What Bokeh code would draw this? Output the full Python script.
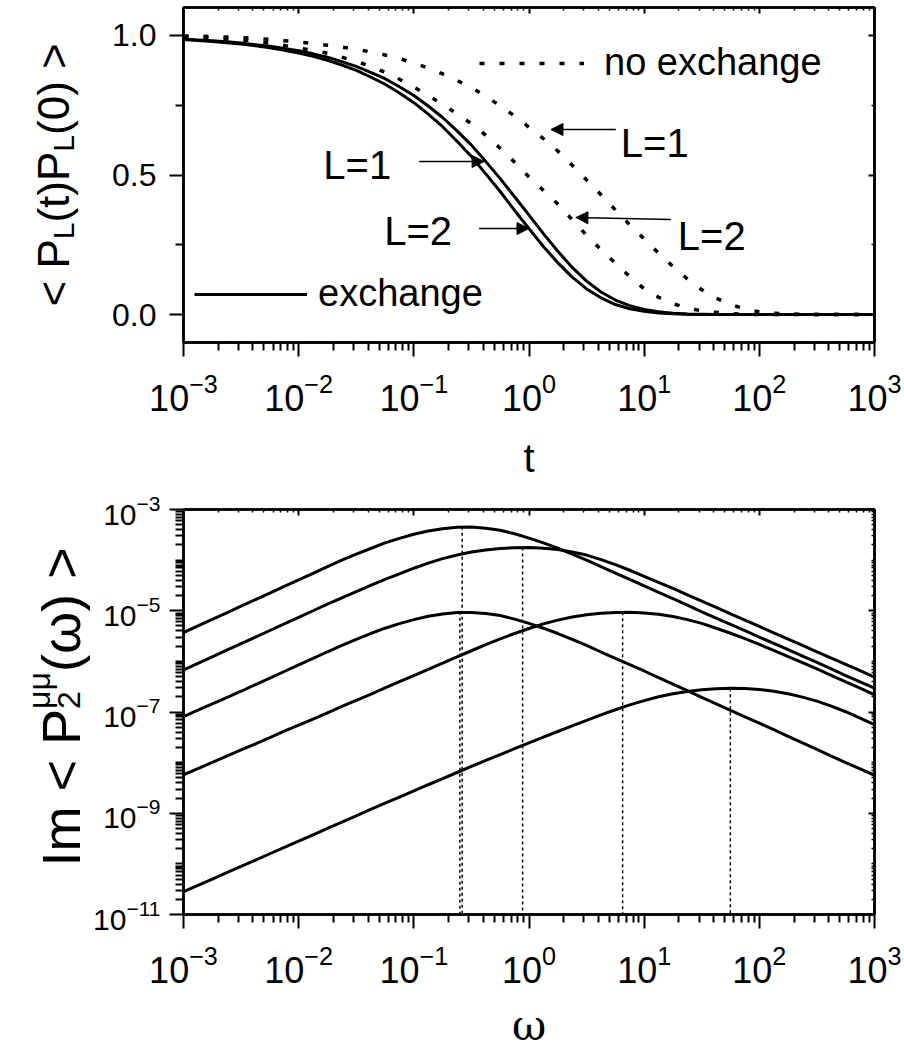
import math
from bokeh.plotting import figure
from bokeh.layouts import column, row
from bokeh.models import (Range1d, FixedTicker, LogAxis, LinearAxis, Label, Arrow,
                          NormalHead, Legend, LegendItem, CustomJSTickFormatter,
                          PrintfTickFormatter)
from bokeh.embed import file_html
from bokeh.resources import INLINE

SANS = "Liberation Sans"
SERIF = "DejaVu Serif"

# ---------------- top panel data ----------------
LOG_T = [-3.0, -2.875, -2.75, -2.625, -2.5, -2.375, -2.25, -2.125, -2.0, -1.875, -1.75, -1.625,
         -1.5, -1.375, -1.25, -1.125, -1.0, -0.875, -0.75, -0.625, -0.5, -0.375, -0.25, -0.125,
         0.0, 0.125, 0.25, 0.375, 0.5, 0.625, 0.75, 0.875, 1.0, 1.125, 1.25, 1.375, 1.5, 1.625,
         1.75, 1.875, 2.0, 2.125, 2.25, 2.375, 2.5, 2.625, 2.75, 2.875, 3.0]
EXCH_L1 = [0.987, 0.984, 0.981, 0.977, 0.973, 0.967, 0.961, 0.953, 0.945, 0.934, 0.922, 0.906,
           0.889, 0.868, 0.845, 0.816, 0.785, 0.747, 0.706, 0.658, 0.607, 0.548, 0.487, 0.422,
           0.356, 0.290, 0.227, 0.169, 0.120, 0.081, 0.052, 0.032, 0.018, 0.010, 0.005, 0.002,
           0.001, 0.0, 0.0, 0.0, 0.0, 0.0, 0.0, 0.0, 0.0, 0.0, 0.0, 0.0, 0.0]
EXCH_L2 = [0.985, 0.982, 0.978, 0.974, 0.969, 0.963, 0.956, 0.947, 0.937, 0.925, 0.911, 0.894,
           0.875, 0.851, 0.825, 0.794, 0.759, 0.718, 0.673, 0.621, 0.566, 0.504, 0.441, 0.373,
           0.308, 0.244, 0.186, 0.134, 0.092, 0.060, 0.036, 0.021, 0.012, 0.006, 0.003, 0.001,
           0.0, 0.0, 0.0, 0.0, 0.0, 0.0, 0.0, 0.0, 0.0, 0.0, 0.0, 0.0, 0.0]
NOEX_L1 = [0.998, 0.997, 0.996, 0.994, 0.992, 0.989, 0.986, 0.981, 0.976, 0.971, 0.965, 0.958,
           0.950, 0.941, 0.930, 0.917, 0.901, 0.883, 0.862, 0.839, 0.813, 0.782, 0.748, 0.711,
           0.671, 0.630, 0.586, 0.535, 0.482, 0.429, 0.375, 0.322, 0.271, 0.220, 0.172, 0.128,
           0.089, 0.059, 0.036, 0.020, 0.010, 0.005, 0.002, 0.001, 0.0, 0.0, 0.0, 0.0, 0.0]
NOEX_L2 = [0.996, 0.994, 0.991, 0.987, 0.983, 0.978, 0.972, 0.964, 0.955, 0.946, 0.936, 0.922,
           0.907, 0.889, 0.868, 0.843, 0.815, 0.785, 0.753, 0.719, 0.684, 0.642, 0.596, 0.546,
           0.493, 0.445, 0.396, 0.340, 0.284, 0.233, 0.184, 0.136, 0.092, 0.062, 0.039, 0.024,
           0.013, 0.008, 0.004, 0.001, 0.0, 0.0, 0.0, 0.0, 0.0, 0.0, 0.0, 0.0, 0.0]

# ---------------- bottom panel data (log10 of Im) ----------------
LOG_W = [-3.0, -2.875, -2.75, -2.625, -2.5, -2.375, -2.25, -2.125, -2.0, -1.875, -1.75, -1.625,
         -1.5, -1.375, -1.25, -1.125, -1.0, -0.875, -0.75, -0.625, -0.5, -0.375, -0.25, -0.125,
         0.0, 0.125, 0.25, 0.375, 0.5, 0.625, 0.75, 0.875, 1.0, 1.125, 1.25, 1.375, 1.5, 1.625,
         1.75, 1.875, 2.0, 2.125, 2.25, 2.375, 2.5, 2.625, 2.75, 2.875, 3.0]
LOG_IM_A = [-5.43, -5.30, -5.17, -5.04, -4.91, -4.78, -4.65, -4.52, -4.39, -4.26, -4.13, -4.00,
            -3.88, -3.77, -3.66, -3.57, -3.49, -3.425, -3.38, -3.350, -3.348, -3.37, -3.41, -3.48,
            -3.565, -3.66, -3.765, -3.88, -4.00, -4.13, -4.255, -4.38, -4.51, -4.635, -4.76, -4.89,
            -5.02, -5.145, -5.27, -5.395, -5.52, -5.645, -5.77, -5.895, -6.02, -6.15, -6.28, -6.405,
            -6.53]
LOG_IM_B = [-6.17, -6.04, -5.91, -5.78, -5.65, -5.52, -5.39, -5.26, -5.13, -5.00, -4.87, -4.745,
            -4.62, -4.50, -4.38, -4.27, -4.16, -4.06, -3.97, -3.90, -3.84, -3.80, -3.77, -3.755,
            -3.75, -3.765, -3.79, -3.84, -3.90, -3.99, -4.09, -4.20, -4.32, -4.44, -4.56, -4.685,
            -4.81, -4.935, -5.06, -5.185, -5.31, -5.435, -5.56, -5.685, -5.81, -5.935, -6.06, -6.185,
            -6.31]
LOG_IM_C = [-7.09, -6.965, -6.84, -6.715, -6.59, -6.46, -6.33, -6.20, -6.07, -5.94, -5.81, -5.685,
            -5.565, -5.45, -5.345, -5.255, -5.175, -5.11, -5.065, -5.035, -5.033, -5.055, -5.095,
            -5.165, -5.25, -5.345, -5.45, -5.565, -5.685, -5.815, -5.94, -6.065, -6.19, -6.32, -6.45,
            -6.58, -6.71, -6.84, -6.97, -7.095, -7.22, -7.35, -7.48, -7.61, -7.74, -7.87, -8.00,
            -8.125, -8.25]
LOG_IM_D = [-8.24, -8.12, -7.995, -7.87, -7.75, -7.63, -7.505, -7.38, -7.26, -7.14, -7.015, -6.89,
            -6.77, -6.65, -6.525, -6.40, -6.28, -6.16, -6.035, -5.91, -5.79, -5.67, -5.555, -5.45,
            -5.35, -5.26, -5.185, -5.125, -5.08, -5.05, -5.035, -5.032, -5.045, -5.07, -5.115,
            -5.175, -5.25, -5.345, -5.445, -5.55, -5.665, -5.785, -5.905, -6.025, -6.15, -6.275,
            -6.405, -6.53, -6.66]
LOG_IM_E = [-10.55, -10.425, -10.30, -10.175, -10.05, -9.925, -9.80, -9.675, -9.55, -9.425, -9.30,
            -9.175, -9.05, -8.925, -8.80, -8.68, -8.56, -8.437, -8.315, -8.195, -8.075, -7.957,
            -7.84, -7.725, -7.61, -7.497, -7.385, -7.275, -7.165, -7.058, -6.955, -6.86, -6.775,
            -6.70, -6.64, -6.594, -6.56, -6.54, -6.53, -6.537, -6.555, -6.592, -6.64, -6.706,
            -6.785, -6.884, -6.995, -7.12, -7.25]
PEAK_W = [0.263, 0.88, 0.251, 6.5, 56.0]
PEAK_LOG_IM = [-3.34, -3.75, -5.02, -5.03, -6.53]

X_TICKS = [1e-3, 1e-2, 1e-1, 1e0, 1e1, 1e2, 1e3]
Y1_TICKS = [0.0, 0.5, 1.0]
Y1_MINOR = [0.25, 0.75]
Y2_TICKS = [1e-11, 1e-9, 1e-7, 1e-5, 1e-3]

# ---------------- layout geometry (page pixels) ----------------
PAGE_W, PAGE_H = 904, 1052
LW = 90                      # left strip holding the rotated axis titles
FL, FR = 182, 874            # frame left / right
F1T, F1B = 7, 342            # top frame
F2T, F2B = 509, 915          # bottom frame
H1 = 486                     # top figure height
H2 = PAGE_H - H1             # bottom figure height
PW = PAGE_W - LW

def tx(px):
    return 10 ** (-3 + 6 * (px - FL) / (FR - FL))

def ty1(py):
    return 1.1 - 1.2 * (py - F1T) / (F1B - F1T)

def log_minor(lo, hi):
    return [k * 10.0 ** n for n in range(lo, hi) for k in range(2, 10)]

CW = {'<': 0.584, '>': 0.584, ' ': 0.278, 'P': 0.667, 'L': 0.556, '(': 0.333, ')': 0.333,
      't': 0.278, '0': 0.556, 'I': 0.278, 'm': 0.833, '2': 0.556, 'μ': 0.576, 'ω': 0.75}

def strip(w, h):
    s = figure(width=w, height=h, x_range=Range1d(0, w), y_range=Range1d(h, 0),
               output_backend="svg", toolbar_location=None, x_axis_location=None,
               y_axis_location=None, min_border_left=0, min_border_right=0,
               min_border_top=0, min_border_bottom=0)
    s.xgrid.visible = False
    s.ygrid.visible = False
    s.outline_line_color = None
    s.background_fill_color = "white"
    s.border_fill_color = "white"
    return s

def vlabel(s, pieces, xbase, ystart):
    y = ystart
    for text, size, shift, adv in pieces:
        w = sum(CW[c] for c in text) * size if adv is None else adv
        s.add_layout(Label(x=xbase + shift, y=y, text=text, angle=math.pi / 2,
                           text_align="left", text_baseline="alphabetic", text_font=SANS,
                           text_font_size=f"{size}px", text_color="black"))
        y -= w

def style_axis(ax, label_size, standoff):
    ax.axis_line_width = 2.5
    ax.major_tick_line_width = 2
    ax.minor_tick_line_width = 2
    ax.major_tick_out = 14
    ax.major_tick_in = 0
    ax.minor_tick_out = 8
    ax.minor_tick_in = 0
    ax.major_label_text_font = SANS
    ax.major_label_text_font_size = label_size
    ax.major_label_text_color = "black"
    ax.major_label_standoff = standoff

def mirror(p, cls, side, ticker):
    ax = cls(ticker=ticker, formatter=CustomJSTickFormatter(code="return ''"),
             major_tick_in=6, major_tick_out=0, minor_tick_in=3, minor_tick_out=0,
             major_label_standoff=0, axis_line_width=2.5, major_tick_line_width=2,
             minor_tick_line_width=1.5, major_label_text_font_size="1px")
    p.add_layout(ax, side)

def base_fig(h, ytype, yrange, top, bottom):
    p = figure(width=PW, height=h, x_axis_type="log", y_axis_type=ytype,
               x_range=Range1d(1e-3, 1e3), y_range=yrange, output_backend="svg",
               toolbar_location=None, min_border_left=FL - LW, min_border_right=PAGE_W - FR,
               min_border_top=top, min_border_bottom=bottom)
    p.xgrid.visible = False
    p.ygrid.visible = False
    p.outline_line_color = "black"
    p.outline_line_width = 2.5
    p.background_fill_color = "white"
    p.border_fill_color = "white"
    return p

def x_title(ax, text, font, size, standoff):
    ax.axis_label = text
    ax.axis_label_text_font = font
    ax.axis_label_text_font_size = size
    ax.axis_label_text_font_style = "normal"
    ax.axis_label_text_color = "black"
    ax.axis_label_standoff = standoff

xticker = FixedTicker(ticks=X_TICKS, minor_ticks=log_minor(-3, 3))

# ======================= top panel =======================
p1 = base_fig(H1, "linear", Range1d(-0.1, 1.1), F1T, H1 - F1B)
style_axis(p1.xaxis[0], "36px", 16)
p1.xaxis[0].ticker = xticker
x_title(p1.xaxis[0], "t", SANS, "40px", 22)
style_axis(p1.yaxis[0], "32px", 13)
y1ticker = FixedTicker(ticks=Y1_TICKS, minor_ticks=Y1_MINOR)
p1.yaxis[0].ticker = y1ticker
p1.yaxis[0].formatter = PrintfTickFormatter(format="%.1f")
mirror(p1, LogAxis, "above", xticker)
mirror(p1, LinearAxis, "right", y1ticker)

t = [10 ** v for v in LOG_T]
r_e1 = p1.line(t, EXCH_L1, line_color="black", line_width=3)
r_e2 = p1.line(t, EXCH_L2, line_color="black", line_width=3)
r_n1 = p1.line(t, NOEX_L1, line_color="black", line_width=3.5, line_dash="5 15")
r_n2 = p1.line(t, NOEX_L2, line_color="black", line_width=3.5, line_dash="5 15")

for items, loc, gw, so in [([LegendItem(label="no exchange", renderers=[r_n1])], (296, 258), 105, 20),
                           ([LegendItem(label="exchange", renderers=[r_e1])], (11, 27), 113, 11)]:
    lg = Legend(items=items, location=loc, glyph_width=gw, glyph_height=20, label_standoff=so,
                label_text_font=SANS, label_text_font_size="38px", label_text_color="black",
                padding=0, margin=0, spacing=0, border_line_alpha=0, background_fill_alpha=0)
    p1.add_layout(lg)

def label1(txt, px, py, size="40px"):
    p1.add_layout(Label(x=tx(px), y=ty1(py), text=txt, text_font=SANS, text_font_size=size,
                        text_align="left", text_baseline="alphabetic", text_color="black"))

label1("L=1", 322, 164)
label1("L=2", 383, 230)
label1("L=1", 620, 142)
label1("L=2", 677, 235)

for (x0, y0, x1, y1) in [(418, 161, 483, 161), (478, 228, 528, 228),
                         (615, 129, 550, 129), (670, 219, 575, 217)]:
    p1.add_layout(Arrow(end=NormalHead(size=12, fill_color="black", line_color="black", line_width=1),
                        x_start=tx(x0), y_start=ty1(y0), x_end=tx(x1), y_end=ty1(y1),
                        line_color="black", line_width=1.5))

# ======================= bottom panel =======================
p2 = base_fig(H2, "log", Range1d(1e-11, 1e-3), F2T - H1, PAGE_H - F2B)
style_axis(p2.xaxis[0], "36px", 16)
p2.xaxis[0].ticker = xticker
x_title(p2.xaxis[0], "ω", SERIF, "42px", 15)
style_axis(p2.yaxis[0], "30px", 9)
y2ticker = FixedTicker(ticks=Y2_TICKS,
                       minor_ticks=[k * 10.0 ** n for n in range(-11, -3) for k in range(1, 10)
                                    if not (k == 1 and n % 2 == 1)])
p2.yaxis[0].ticker = y2ticker
mirror(p2, LogAxis, "above", xticker)
mirror(p2, LogAxis, "right", y2ticker)

w = [10 ** v for v in LOG_W]
for series in [LOG_IM_A, LOG_IM_B, LOG_IM_C, LOG_IM_D, LOG_IM_E]:
    p2.line(w, [10 ** v for v in series], line_color="black", line_width=3)

p2.segment(x0=PEAK_W, y0=[10 ** v for v in PEAK_LOG_IM], x1=PEAK_W, y1=[1e-11] * len(PEAK_W),
           line_color="black", line_width=1.5, line_dash="3 3")

# left strip with the rotated y titles
sl = strip(LW, PAGE_H)
vlabel(sl, [("< P", 44, 0, None), ("L", 30, 10, None), ("(t)P", 44, 0, None),
            ("L", 30, 10, None), ("(0) >", 44, 0, None)], 53, 306)
vlabel(sl, [("Im < P", 54, 0, None), ("2", 32, 8, 0), ("μμ", 32, -22, None),
            ("(ω) >", 54, 0, None)], 60, 866)

layout = row(sl, column(p1, p2))
open("out.html", "w").write(file_html(layout, INLINE))
